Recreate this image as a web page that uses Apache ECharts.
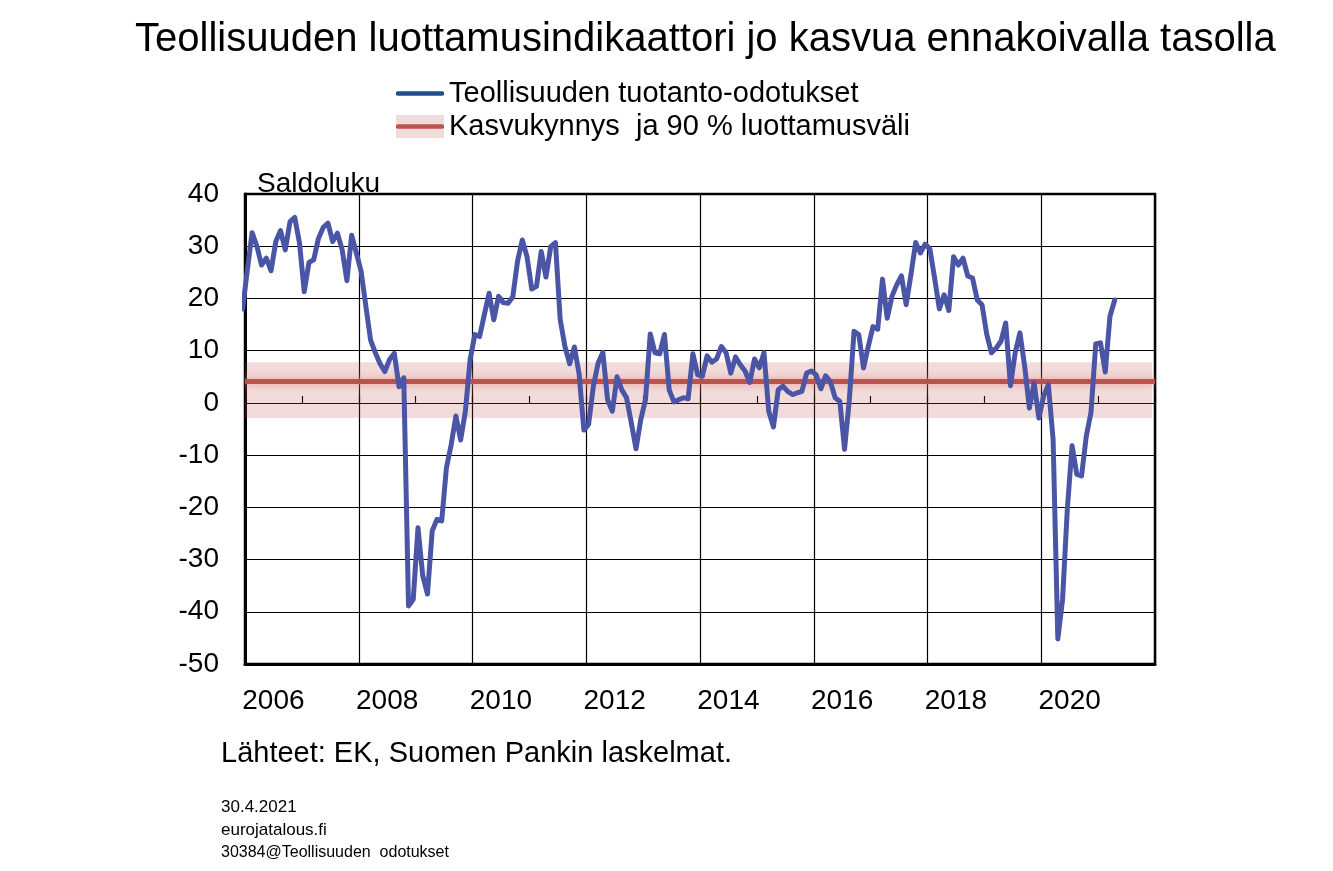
<!DOCTYPE html>
<html>
<head>
<meta charset="utf-8">
<script src="https://cdn.jsdelivr.net/npm/echarts@6/dist/echarts.min.js"></script>
<style>
html,body{margin:0;padding:0;background:#fff;}
#chart{width:1333px;height:871px;}
</style>
</head>
<body>
<div id="chart"></div>
<script>
// ---- DATA ----
const titleText = 'Teollisuuden luottamusindikaattori jo kasvua ennakoivalla tasolla';
const seriesNames = ['Teollisuuden tuotanto-odotukset', 'Kasvukynnys  ja 90 % luottamusväli'];
const yAxisName = 'Saldoluku';
const sourceText = 'Lähteet: EK, Suomen Pankin laskelmat.';
const footerLines = ['30.4.2021', 'eurojatalous.fi', '30384@Teollisuuden  odotukset'];
const yearLabels = ['2006', '2008', '2010', '2012', '2014', '2016', '2018', '2020'];

// monthly values starting December 2005
const startYear = 2005;
const startMonth = 11; // 0-based: December
const expectations = [
  18.0,
  25.5, 32.6, 30.0, 26.4, 27.7, 25.3, 30.9, 33.0, 29.3, 34.7, 35.5, 30.6,
  21.3, 26.9, 27.4, 31.5, 33.6, 34.4, 30.9, 32.5, 29.3, 23.4, 32.1, 28.7,
  25.2, 18.5, 12.0, 9.6, 7.5, 6.0, 8.3, 9.5, 3.1, 4.8, -38.9, -37.6,
  -23.9, -33.1, -36.6, -24.5, -22.3, -22.6, -12.4, -8.0, -2.5, -7.1, -1.6, 8.3,
  13.1, 12.7, 16.9, 21.0, 15.9, 20.4, 19.2, 19.1, 20.3, 27.1, 31.2, 28.0,
  21.8, 22.3, 29.0, 24.1, 29.9, 30.7, 16.0, 10.8, 7.5, 10.7, 5.5, -5.2,
  -4.1, 3.2, 7.6, 9.7, 0.6, -1.6, 5.0, 2.5, 1.0, -3.8, -8.8, -3.2,
  0.6, 13.2, 9.6, 9.4, 13.1, 2.5, 0.2, 0.6, 1.0, 0.8, 9.4, 5.4,
  5.1, 9.0, 7.8, 8.4, 10.8, 9.6, 5.7, 8.8, 7.3, 6.1, 3.9, 8.4,
  6.7, 9.6, -1.6, -4.6, 2.5, 3.2, 2.2, 1.6, 1.9, 2.2, 5.7, 6.1,
  5.4, 2.7, 5.2, 4.1, 1.0, 0.3, -8.9, 0.5, 13.7, 13.1, 6.7, 10.8,
  14.6, 14.1, 23.7, 16.2, 20.4, 22.6, 24.3, 18.8, 24.5, 30.7, 28.7, 30.4,
  29.5, 23.9, 18.0, 20.7, 17.7, 28.0, 26.4, 27.7, 24.3, 23.9, 19.7, 18.8,
  13.1, 9.6, 10.5, 11.8, 15.3, 3.3, 9.6, 13.4, 7.0, -1.0, 3.8, -2.9,
  1.3, 3.5, -7.0, -45.2, -37.6, -20.4, -8.2, -13.7, -14.0, -6.4, -1.8, 11.3,
  11.5, 5.9, 16.6, 19.7
];

const thresholdValue = 4.1;
const bandLow = -2.9;
const bandHigh = 7.8;
const xStart = 2006;
const xEnd = 2022;
const bandEnd = 2021.95;

// ---- BUILD ----
const lineData = expectations.map((v, i) => [startYear + (startMonth + i + 0.5) / 12, v]);
const thresholdData = [[xStart, thresholdValue], [xEnd, thresholdValue]];

function svgIcon(svg) {
  return 'image://data:image/svg+xml;charset=utf-8,' + encodeURIComponent(svg);
}
const icon1 = svgIcon('<svg xmlns="http://www.w3.org/2000/svg" width="48" height="26" viewBox="0 0 48 26"><line x1="2" y1="13" x2="46" y2="13" stroke="#1F4E89" stroke-width="4.5" stroke-linecap="round"/></svg>');
const icon2 = svgIcon('<svg xmlns="http://www.w3.org/2000/svg" width="48" height="26" viewBox="0 0 48 26"><rect x="0" y="1.5" width="48" height="23" fill="#F2DCDB"/><line x1="2" y1="13" x2="46" y2="13" stroke="#C0504D" stroke-width="4.5" stroke-linecap="round"/></svg>');

const font = 'Liberation Sans, Arial, sans-serif';

const chart = echarts.init(document.getElementById('chart'));
chart.setOption({
  animation: false,
  backgroundColor: '#fff',
  title: [
    { text: titleText, left: 130, top: 15, textStyle: { fontFamily: font, fontSize: 40, fontWeight: 'normal', color: '#000' } },
    { text: yAxisName, left: 252, top: 165, textStyle: { fontFamily: font, fontSize: 28, fontWeight: 'normal', color: '#000' } },
    { text: sourceText, left: 216, top: 734, textStyle: { fontFamily: font, fontSize: 29, fontWeight: 'normal', color: '#000' } },
    { text: footerLines[0], left: 216, top: 794, textStyle: { fontFamily: font, fontSize: 17, fontWeight: 'normal', color: '#000' } },
    { text: footerLines[1], left: 216, top: 817, textStyle: { fontFamily: font, fontSize: 17, fontWeight: 'normal', color: '#000' } },
    { text: footerLines[2], left: 216, top: 840, textStyle: { fontFamily: font, fontSize: 16, fontWeight: 'normal', color: '#000' } }
  ],
  legend: {
    orient: 'vertical',
    left: 391,
    top: 74,
    itemWidth: 48,
    itemHeight: 26,
    itemGap: 4,
    textStyle: { fontFamily: font, fontSize: 29, color: '#000' },
    data: [
      { name: seriesNames[0], icon: icon1 },
      { name: seriesNames[1], icon: icon2 }
    ]
  },
  grid: {
    left: 245, top: 194, width: 910, height: 470,
    show: true, borderColor: '#000', borderWidth: 2.5, containLabel: false
  },
  xAxis: [
    {
      type: 'value', min: xStart, max: xEnd, interval: 1,
      position: 'bottom',
      axisLine: { show: true, onZero: true, lineStyle: { color: '#000', width: 1.2 } },
      axisTick: { show: true, inside: true, length: 7, lineStyle: { color: '#000', width: 1.2 } },
      axisLabel: { show: false },
      splitLine: { show: false }
    },
    {
      type: 'value', min: xStart - 0.5, max: xEnd - 0.5, interval: 0.5,
      position: 'bottom',
      axisLine: { show: true, onZero: false, lineStyle: { color: '#000', width: 3 } },
      axisTick: { show: false },
      splitLine: { show: false },
      axisLabel: {
        show: true, margin: 23, fontFamily: font, fontSize: 28, color: '#000',
        showMinLabel: true, showMaxLabel: true,
        formatter: function (v) {
          const s = String(v);
          return yearLabels.indexOf(s) >= 0 ? s : '';
        }
      }
    },
    {
      type: 'value', min: xStart, max: xEnd, interval: 2,
      position: 'top',
      axisLine: { show: false, onZero: false },
      axisTick: { show: false },
      axisLabel: { show: false },
      splitLine: { show: true, lineStyle: { color: '#000', width: 1.2 } }
    }
  ],
  yAxis: {
    type: 'value', min: -50, max: 40, interval: 10,
    axisLine: { show: true, lineStyle: { color: '#000', width: 3 } },
    axisTick: { show: false },
    axisLabel: { fontFamily: font, fontSize: 28, color: '#000', margin: 26 },
    splitLine: { show: true, lineStyle: { color: '#000', width: 1.2 } }
  },
  series: [
    {
      name: seriesNames[1],
      type: 'line',
      xAxisIndex: 0,
      data: thresholdData,
      symbol: 'none',
      silent: true,
      lineStyle: { color: '#C0504D', width: 5, shadowBlur: 8, shadowColor: 'rgba(232,140,140,0.9)' },
      itemStyle: { color: '#C0504D' },
      markArea: {
        silent: true,
        itemStyle: { color: 'rgba(192,80,77,0.2)' },
        data: [[{ xAxis: xStart, yAxis: bandLow }, { xAxis: bandEnd, yAxis: bandHigh }]]
      },
      z: 2
    },
    {
      name: seriesNames[0],
      type: 'line',
      xAxisIndex: 0,
      data: lineData,
      symbol: 'none',
      clip: true,
      lineStyle: { color: '#4A56A5', width: 5, join: 'round', cap: 'round' },
      itemStyle: { color: '#1F4E89' },
      z: 3
    }
  ]
});
</script>
</body>
</html>
